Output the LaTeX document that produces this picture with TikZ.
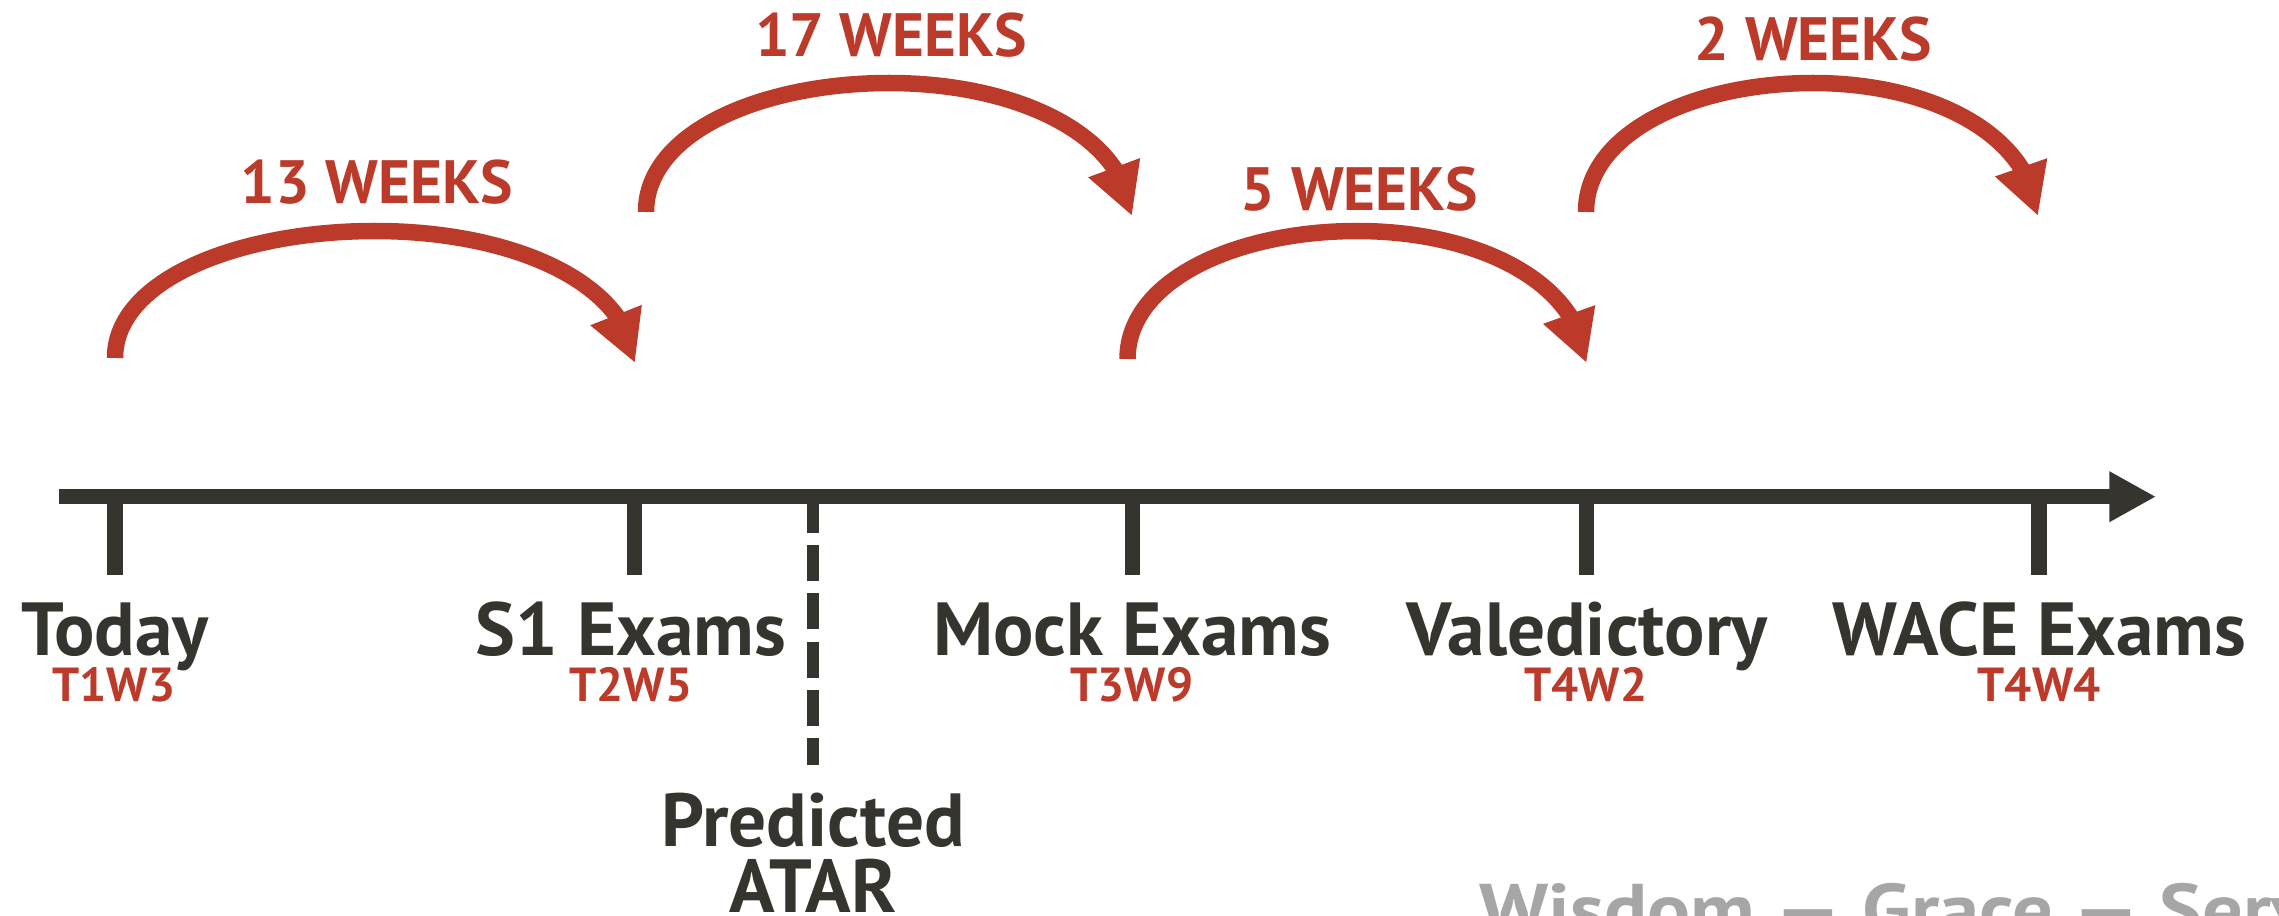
\documentclass[tikz,border=0pt]{standalone}
\usepackage{fontspec}
\setmainfont{PT Sans}
\newfontfamily\mottofont{PT Sans}[FakeStretch=1.12]
\usetikzlibrary{arrows.meta,bending}
\definecolor{tlred}{HTML}{BB3A2A}
\definecolor{tldark}{HTML}{35342E}
\definecolor{tlgrey}{HTML}{A6A6A6}
\begin{document}
\begin{tikzpicture}[x=0.01cm,y=-0.01cm,
  evt/.style={font=\bfseries\fontsize{21.4}{24}\selectfont, text=tldark, anchor=base, inner sep=0pt},
  term/.style={font=\bfseries\fontsize{13.6}{16}\selectfont, text=tlred, anchor=base, inner sep=0pt},
  wk/.style={font=\bfseries\fontsize{17.4}{20}\selectfont, text=tlred, anchor=base, inner sep=0pt},
  motto/.style={font=\mottofont\bfseries\fontsize{20.4}{24}\selectfont, text=tlgrey, anchor=base west, inner sep=0pt},
  ticklne/.style={draw=tldark, line width=0.155cm},
  axisline/.style={draw=tldark, line width=0.153cm, -{Triangle[length=0.467cm,width=0.474cm]}},
  dashline/.style={draw=tldark, line width=0.12cm, dash pattern=on 0.36cm off 0.123cm},
  hop/.style={draw=tlred, line width=0.165cm, -{Triangle[length=0.515cm,width=0.514cm]}},
]
\useasboundingbox (0,0) rectangle (2279,915);
\begin{scope}
\clip (0,0) rectangle (2279,915);

% axis
\coordinate (a0) at (59,496.7);
\coordinate (a1) at (2156,496.7);
\draw[axisline] (a0) -- (a1);

% ticks
\coordinate (t1) at (114.8,496.7);  \coordinate (b1) at (114.8,574.7);
\coordinate (t2) at (634.3,496.7);  \coordinate (b2) at (634.3,574.7);
\coordinate (t3) at (1132.5,496.7); \coordinate (b3) at (1132.5,574.7);
\coordinate (t4) at (1586.5,496.7); \coordinate (b4) at (1586.5,574.7);
\coordinate (t5) at (2039,496.7);   \coordinate (b5) at (2039,574.7);
\draw[ticklne] (t1) -- (b1);
\draw[ticklne] (t2) -- (b2);
\draw[ticklne] (t3) -- (b3);
\draw[ticklne] (t4) -- (b4);
\draw[ticklne] (t5) -- (b5);

% predicted ATAR dashed line
\coordinate (pa) at (813,496.7);
\coordinate (pb) at (813,765);
\draw[dashline] (pa) -- (pb);

% hop arcs
\coordinate (s1) at (115,358);    \coordinate (e1) at (635,363);
\coordinate (s2) at (646,212);    \coordinate (e2) at (1132,216);
\coordinate (s3) at (1127.5,359); \coordinate (e3) at (1586.5,363);
\coordinate (s4) at (1586,212);   \coordinate (e4) at (2038,216);
\draw[hop] (s1) .. controls (115,279.3) and (239.8,231) .. (375,231)
               .. controls (510.2,231) and (627,281) .. (e1);
\draw[hop] (s2) .. controls (646,132) and (762.6,83) .. (889,83)
               .. controls (1015.4,83) and (1124,133.5) .. (e2);
\draw[hop] (s3) .. controls (1127.5,279.6) and (1237.7,231) .. (1357,231)
               .. controls (1476.9,231) and (1578.5,281.2) .. (e3);
\draw[hop] (s4) .. controls (1586,132) and (1695,83) .. (1813,83)
               .. controls (1930,83) and (2030,133.5) .. (e4);

% week labels
\node[wk] (wk1) at (376.5,203.5) {13 WEEKS};
\node[wk] (wk2) at (891,56.7) {17 WEEKS};
\node[wk] (wk3) at (1359.5,210) {5 WEEKS};
\node[wk] (wk4) at (1813.5,60) {2 WEEKS};

% event labels
\node[evt] (ev1) at (114.8,655) {Today};
\node[evt] (ev2) at (631,655) {S1 Exams};
\node[evt] (ev3) at (1132,655) {Mock Exams};
\node[evt] (ev4) at (1587,655) {Valedictory};
\node[evt] (ev5) at (2039,655) {WACE Exams};
\node[term] (tm1) at (114,701) {T1W3};
\node[term] (tm2) at (631,701) {T2W5};
\node[term] (tm3) at (1132,701) {T3W9};
\node[term] (tm4) at (1586,701) {T4W2};
\node[term] (tm5) at (2039,701) {T4W4};

% predicted ATAR
\node[evt] (pr1) at (813,846) {Predicted};
\node[evt] (pr2) at (813,912.4) {ATAR};

% motto
\node[motto] (motto) at (1479,934) {Wisdom — Grace — Service};
\end{scope}
\end{tikzpicture}
\end{document}
